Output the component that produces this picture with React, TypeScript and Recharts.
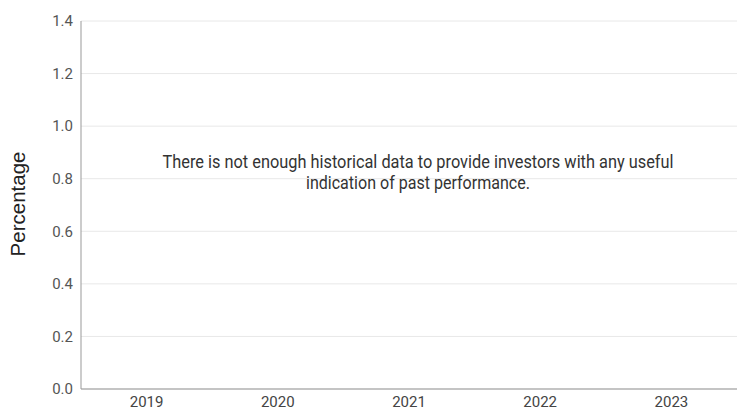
import React from 'react';
import { BarChart, Bar, XAxis, YAxis, CartesianGrid, Customized } from 'recharts';

const years = ['2019', '2020', '2021', '2022', '2023'];
const values: (number | null)[] = [null, null, null, null, null];
const yTicks = [0, 0.2, 0.4, 0.6, 0.8, 1.0, 1.2, 1.4];
const messageLines = [
  'There is not enough historical data to provide investors with any useful',
  'indication of past performance.',
];
const axisLabel = 'Percentage';

const data = years.map((y, i) => ({ year: y, value: values[i] }));

const Overlay = () => (
  <g>
    <text
      x={17}
      y={204}
      transform="rotate(-90 17 204)"
      textAnchor="middle"
      dominantBaseline="central"
      fontFamily="'Liberation Sans', Arial, sans-serif"
      fontSize={20.5}
      fill="#222"
    >
      {axisLabel}
    </text>
    <text x={418} y={168} textAnchor="middle" fontFamily="Roboto, sans-serif" fontSize={17.5} fill="#333"
      textLength={511} lengthAdjust="spacingAndGlyphs">
      {messageLines[0]}
    </text>
    <text x={418} y={189} textAnchor="middle" fontFamily="Roboto, sans-serif" fontSize={17.5} fill="#333"
      textLength={224} lengthAdjust="spacingAndGlyphs">
      {messageLines[1]}
    </text>
  </g>
);

export default function App() {
  return (
    <div style={{ position: 'absolute', left: 0, top: 0, width: 737, height: 409, background: '#fff' }}>
      <BarChart width={737} height={409} data={data} margin={{ top: 21, right: 0, bottom: 0, left: 0 }}>
        <CartesianGrid vertical={false} stroke="#e8e8e8" strokeWidth={1} />
        <XAxis
          dataKey="year"
          height={20}
          tickLine={false}
          tickSize={0}
          tickMargin={7}
          axisLine={{ stroke: '#c4c4c4', strokeWidth: 2 }}
          tick={{ fill: '#444', fontSize: 15, fontFamily: 'Roboto, sans-serif' }}
        />
        <YAxis
          type="number"
          width={81}
          domain={[0, 1.4]}
          allowDataOverflow={true}
          ticks={yTicks}
          interval={0}
          tickFormatter={(v: number) => v.toFixed(1)}
          tickLine={false}
          tickSize={0}
          tickMargin={8}
          axisLine={{ stroke: '#999', strokeWidth: 1 }}
          tick={{ fill: '#555', fontSize: 15, fontFamily: 'Roboto, sans-serif' }}
        />
        <Bar dataKey="value" fill="#1f6fb2" isAnimationActive={false} />
        <Customized component={Overlay} />
      </BarChart>
    </div>
  );
}
